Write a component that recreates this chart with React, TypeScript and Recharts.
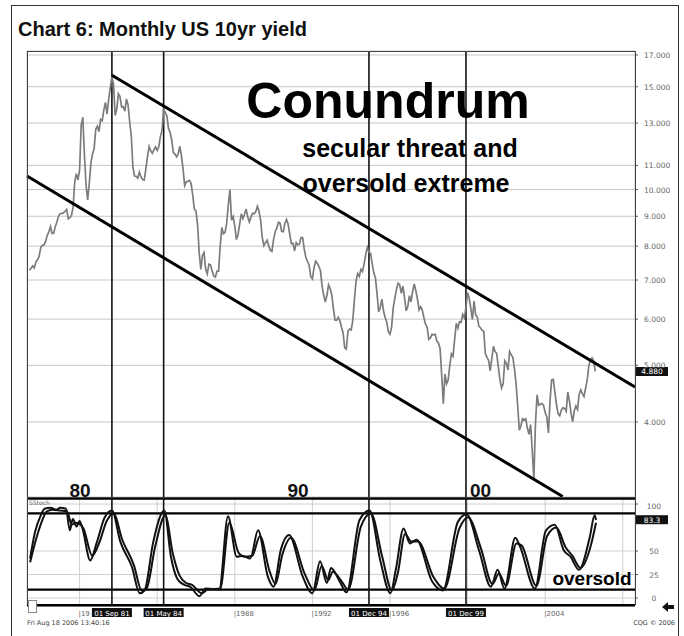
import { CartesianGrid, Line, LineChart, ReferenceLine, XAxis, YAxis } from "recharts";

// monthly US 10yr yield, Jun 1977 .. Aug 2006
const firstMonth = 1977 + 5 / 12;
const yields = [
  7.28, 7.33, 7.4, 7.34, 7.52, 7.58, 7.69,
  7.96, 8.03, 8.04, 8.15, 8.35, 8.46, 8.64, 8.41, 8.42, 8.64, 8.81, 9.01,
  9.1, 9.1, 9.12, 9.18, 9.25, 8.91, 8.95, 9.03, 9.33, 10.3, 10.65, 10.39,
  10.8, 12.9, 13.3, 11.47, 10.18, 9.6, 10.25, 11.1, 11.51, 11.75, 12.68, 12.84,
  12.57, 13.19, 13.12, 13.68, 14.1, 13.47, 14.28, 14.94, 15.6, 15.15, 13.39, 13.72,
  14.59, 14.43, 13.86, 13.87, 13.62, 14.3, 13.95, 13.06, 12.34, 10.91, 10.55, 10.54,
  10.46, 10.72, 10.51, 10.4, 10.38, 10.85, 11.38, 11.85, 11.65, 11.54, 11.69, 11.83,
  11.67, 11.84, 12.32, 12.63, 13.7, 13.56, 13.36, 12.72, 12.52, 12.16, 11.57, 11.5,
  11.38, 11.51, 11.86, 11.43, 10.85, 10.16, 10.31, 10.33, 10.37, 10.24, 9.78, 9.26,
  9.19, 8.7, 7.78, 7.3, 7.71, 7.8, 7.3, 7.17, 7.45, 7.43, 7.25, 7.11,
  7.08, 7.25, 7.25, 8.02, 8.61, 8.4, 8.45, 8.76, 9.42, 10.0, 8.86, 8.99,
  8.67, 8.21, 8.37, 8.72, 9.09, 8.92, 9.06, 9.26, 8.98, 8.8, 8.96, 9.11,
  9.09, 9.17, 9.36, 9.18, 8.86, 8.28, 8.02, 8.11, 8.19, 8.01, 7.87, 7.84,
  8.21, 8.47, 8.59, 8.79, 8.76, 8.48, 8.47, 8.75, 8.89, 8.72, 8.39, 8.08,
  8.09, 7.85, 8.11, 8.04, 8.07, 8.28, 8.27, 7.9, 7.65, 7.53, 7.42, 7.09,
  7.03, 7.34, 7.54, 7.48, 7.39, 7.26, 6.84, 6.59, 6.42, 6.59, 6.87, 6.77,
  6.6, 6.26, 5.98, 5.97, 6.04, 5.96, 5.81, 5.68, 5.36, 5.33, 5.72, 5.77,
  5.75, 5.97, 6.48, 6.97, 7.18, 7.1, 7.3, 7.24, 7.46, 7.74, 7.96, 7.81,
  7.78, 7.47, 7.2, 7.06, 6.63, 6.17, 6.28, 6.49, 6.2, 6.04, 5.93, 5.71,
  5.65, 5.81, 6.27, 6.51, 6.74, 6.91, 6.87, 6.64, 6.83, 6.53, 6.2, 6.3,
  6.58, 6.42, 6.69, 6.89, 6.71, 6.49, 6.22, 6.3, 6.21, 6.03, 5.88, 5.81,
  5.54, 5.57, 5.65, 5.64, 5.65, 5.5, 5.46, 5.34, 4.81, 4.3, 4.83, 4.65,
  4.72, 5.0, 5.23, 5.18, 5.54, 5.9, 5.79, 5.94, 5.92, 6.11, 6.03, 6.28,
  6.66, 6.52, 6.26, 5.99, 6.44, 6.1, 6.05, 5.83, 5.8, 5.74, 5.72, 5.24,
  5.16, 5.1, 4.89, 5.14, 5.39, 5.28, 5.24, 4.97, 4.73, 4.57, 4.65, 5.09,
  5.04, 4.91, 5.28, 5.21, 5.16, 4.93, 4.65, 4.26, 3.87, 3.94, 4.05, 4.03,
  4.05, 3.9, 3.81, 3.96, 3.57, 3.2, 3.98, 4.45, 4.27, 4.29, 4.3, 4.27,
  4.15, 4.08, 3.83, 4.35, 4.72, 4.73, 4.5, 4.28, 4.13, 4.1, 4.19, 4.23,
  4.22, 4.17, 4.5, 4.34, 4.14, 4.0, 4.18, 4.26, 4.2, 4.46, 4.54, 4.47,
  4.42, 4.57, 4.72, 4.99, 5.11, 5.15, 5.09, 4.88,
];

// slow stochastic, %K and %D turning points [year, value]
const stochK = [
  [1977.45, 42], [1977.7, 70], [1978.0, 88], [1978.2, 95], [1978.5, 96], [1978.8, 94], [1979.0, 96],
  [1979.3, 95], [1979.5, 72], [1979.65, 84], [1979.85, 76], [1980.0, 82], [1980.15, 74], [1980.55, 40],
  [1980.9, 60], [1981.3, 86], [1981.67, 93], [1982.1, 60], [1982.7, 33], [1983.1, 5], [1983.35, 8],
  [1983.8, 60], [1984.37, 93], [1984.7, 45], [1985.05, 20], [1985.4, 14], [1985.7, 12], [1986.18, 2],
  [1986.5, 10], [1987.2, 9], [1987.65, 87], [1988.1, 44], [1988.4, 45], [1988.8, 42], [1989.2, 72],
  [1989.7, 23], [1990.0, 12], [1990.37, 51], [1990.8, 67], [1991.5, 23], [1992.0, 5], [1992.4, 39],
  [1992.74, 16], [1992.96, 32], [1993.4, 18], [1993.76, 6], [1994.43, 83], [1994.95, 93], [1995.5, 40],
  [1996.02, 5], [1996.3, 30], [1996.7, 74], [1997.03, 58], [1997.37, 62], [1998.16, 18], [1998.73, 8],
  [1999.5, 81], [1999.95, 89], [2000.6, 50], [2001.2, 12], [2001.55, 30], [2001.9, 10], [2002.46, 64],
  [2002.7, 55], [2003.47, 10], [2004.04, 72], [2004.5, 78], [2004.95, 51], [2005.3, 44], [2005.74, 30],
  [2006.3, 65], [2006.55, 88], [2006.62, 83],
];
const stochD = [
  [1977.45, 38], [1977.75, 62], [1978.1, 84], [1978.3, 92], [1978.6, 94], [1979.0, 93], [1979.35, 92],
  [1979.6, 78], [1979.8, 80], [1980.05, 78], [1980.2, 74], [1980.65, 45], [1981.0, 58], [1981.4, 82],
  [1981.75, 90], [1982.2, 62], [1982.8, 35], [1983.2, 8], [1983.45, 10], [1983.9, 55], [1984.42, 88],
  [1984.8, 48], [1985.15, 24], [1985.5, 16], [1985.8, 14], [1986.3, 5], [1986.6, 9], [1987.25, 10],
  [1987.72, 80], [1988.2, 48], [1988.5, 44], [1988.9, 45], [1989.3, 66], [1989.8, 28], [1990.1, 15],
  [1990.45, 46], [1990.9, 64], [1991.6, 26], [1992.1, 8], [1992.48, 34], [1992.82, 19], [1993.05, 28],
  [1993.5, 18], [1993.85, 9], [1994.5, 76], [1995.02, 90], [1995.6, 44], [1996.1, 8], [1996.4, 26],
  [1996.78, 68], [1997.1, 60], [1997.45, 60], [1998.25, 22], [1998.8, 10], [1999.58, 74], [2000.02, 86],
  [2000.7, 52], [2001.28, 15], [2001.62, 26], [2001.98, 13], [2002.52, 58], [2002.78, 56], [2003.55, 13],
  [2004.1, 66], [2004.58, 75], [2005.05, 54], [2005.4, 45], [2005.82, 32], [2006.38, 58], [2006.62, 80],
];

const markedDates = [
  { x: 1981 + 8 / 12, label: "01 Sep 81" },
  { x: 1984 + 4 / 12, label: "01 May 84" },
  { x: 1994 + 11 / 12, label: "01 Dec 94" },
  { x: 1999 + 11 / 12, label: "01 Dec 99" },
];
const gridYears = [1980, 1984, 1988, 1992, 1996, 2000, 2004, 2008];
// 1980 label is mostly hidden behind the Sep 81 box, only "|19" shows
const yearLabels: Record<number, string> = { 1980: "|19", 1988: "|1988", 1992: "|1992", 1996: "|1996", 2004: "|2004" };
const yieldTicks = [4, 5, 6, 7, 8, 9, 10, 11, 12, 13, 14, 15, 16, 17];
const stochTicks = [0, 25, 50, 75, 100];
const upperChannel = [{ x: 1981.667, y: 15.7 }, { x: 2008.63, y: 4.59 }];
const lowerChannel = [{ x: 1977.29, y: 10.55 }, { x: 2004.9, y: 2.98 }];
const lastYield = 4.88;
const lastStoch = 83.3;

const xDomain = [1977.29, 2008.63];
const yieldRows = yields.map((v, i) => ({ x: firstMonth + i / 12, y: v }));
const kRows = stochK.map(([x, v]) => ({ x, v }));
const dRows = stochD.map(([x, v]) => ({ x, v }));

const axisFont = "'DejaVu Sans', sans-serif";
const boldFont = "'Liberation Sans', Arial, sans-serif";

function YieldTick(props: any) {
  const { x, y, payload } = props;
  return (
    <text x={x + 4} y={y + 3} fontSize={7.5} fill="#666" fontFamily={axisFont}>
      {payload.value.toFixed(3)}
    </text>
  );
}

function StochTick(props: any) {
  const { x, y, payload } = props;
  if (payload.value === 75) return null;
  return (
    <text x={x + 14} y={y + 3} fontSize={7.5} fill="#666" textAnchor="middle" fontFamily={axisFont}>
      {payload.value}
    </text>
  );
}

function YearTick(props: any) {
  const { x, y, payload } = props;
  const label = yearLabels[payload.value];
  if (!label) return null;
  return (
    <text x={x - 1} y={y + 2} fontSize={7} fill="#666" fontFamily={axisFont}>
      {label}
    </text>
  );
}

function valueBox(text: string) {
  return (props: any) => {
    const { x, y, width } = props.viewBox;
    return (
      <g>
        <rect x={x + width + 1} y={y - 4.5} width={32} height={9} fill="#111" />
        <text x={x + width + 17} y={y + 3} fontSize={7.5} fill="#fff" textAnchor="middle" fontFamily={axisFont}>
          {text}
        </text>
      </g>
    );
  };
}

function dateBox(text: string) {
  return (props: any) => {
    const { x, y, height } = props.viewBox;
    return (
      <g>
        <rect x={x - 20} y={y + height + 2} width={40} height={9} fill="#111" />
        <text x={x} y={y + height + 9.5} fontSize={7} fill="#fff" textAnchor="middle" fontFamily={axisFont}>
          {text}
        </text>
      </g>
    );
  };
}

export default function App() {
  return (
    <div style={{ position: "absolute", left: 0, top: 0, width: 684, height: 636, background: "#fff", overflow: "hidden" }}>
      <div style={{ position: "absolute", left: 11, top: 5, width: 666, height: 640, border: "1.5px solid #333" }} />

      <div style={{ position: "absolute", left: 0, top: 0 }}>
        <LineChart width={684} height={500} data={yieldRows} margin={{ top: 51, right: 0, bottom: 3, left: 27 }}>
          <CartesianGrid stroke="#c6c6c6" />
          <XAxis
            type="number"
            dataKey="x"
            domain={xDomain}
            ticks={gridYears}
            allowDataOverflow
            height={0}
            tick={false}
            axisLine={false}
            tickLine={false}
          />
          <YAxis
            orientation="right"
            type="number"
            scale="log"
            domain={[2.975, 17.27]}
            allowDataOverflow
            ticks={yieldTicks}
            width={49}
            tick={<YieldTick />}
            tickSize={3}
            axisLine={false}
            tickLine={{ stroke: "#555" }}
          />
          {markedDates.map((d) => (
            <ReferenceLine key={d.label} x={d.x} stroke="#111" strokeWidth={1.6} />
          ))}
          <Line
            dataKey="y"
            stroke="#7c7c7c"
            strokeWidth={1.7}
            dot={false}
            isAnimationActive={false}
          />
          <ReferenceLine segment={upperChannel} stroke="#000" strokeWidth={3} ifOverflow="visible" />
          <ReferenceLine segment={lowerChannel} stroke="#000" strokeWidth={3} ifOverflow="visible" />
          <ReferenceLine y={lastYield} stroke="none" label={valueBox(lastYield.toFixed(3))} />
        </LineChart>
      </div>

      <div style={{ position: "absolute", left: 0, top: 497 }}>
        <LineChart width={684} height={140} margin={{ top: 1, right: 0, bottom: 17, left: 27 }}>
          <CartesianGrid stroke="#cfcfcf" />
          <XAxis
            type="number"
            dataKey="x"
            domain={xDomain}
            ticks={gridYears}
            allowDataOverflow
            height={14}
            tick={<YearTick />}
            axisLine={false}
            tickLine={false}
          />
          <YAxis
            orientation="right"
            type="number"
            domain={[-8.5, 106.4]}
            allowDataOverflow
            ticks={stochTicks}
            width={49}
            tick={<StochTick />}
            tickSize={3}
            axisLine={false}
            tickLine={{ stroke: "#555" }}
          />
          <ReferenceLine y={90} stroke="#000" strokeWidth={2.2} />
          <ReferenceLine y={9} stroke="#000" strokeWidth={2.2} />
          <ReferenceLine y={106} stroke="#000" strokeWidth={2.5} />
          <ReferenceLine y={-7.6} stroke="#000" strokeWidth={2.5} />
          {markedDates.map((d) => (
            <ReferenceLine key={d.label} x={d.x} stroke="#111" strokeWidth={1.6} label={dateBox(d.label)} />
          ))}
          <Line data={dRows} dataKey="v" type="monotone" stroke="#111" strokeWidth={2} dot={false} isAnimationActive={false} />
          <Line data={kRows} dataKey="v" type="monotone" stroke="#111" strokeWidth={2} dot={false} isAnimationActive={false} />
          <ReferenceLine y={lastStoch} stroke="none" label={valueBox(lastStoch.toFixed(1))} />
        </LineChart>
      </div>

      <div style={{ position: "absolute", left: 27, top: 51, width: 607, height: 445, border: "1px solid #444", pointerEvents: "none" }} />
      <div style={{ position: "absolute", left: 27, top: 498, width: 607, height: 107, borderLeft: "1px solid #444", borderRight: "1px solid #444", pointerEvents: "none" }} />
      <div style={{ position: "absolute", left: 28, top: 600, width: 7, height: 11, border: "1px solid #888", background: "#fff" }} />

      <svg width={684} height={636} style={{ position: "absolute", left: 0, top: 0, pointerEvents: "none" }}>
        <text x={18} y={36} fontSize={20} fontWeight="bold" fill="#111" fontFamily="'Liberation Sans Narrow', 'Liberation Sans', Arial, sans-serif">
          Chart 6: Monthly US 10yr yield
        </text>
        <text x={388} y={118} fontSize={50} fontWeight="bold" fill="#000" textAnchor="middle" fontFamily={boldFont}>
          Conundrum
        </text>
        <text x={410} y={157} fontSize={25} fontWeight="bold" fill="#000" textAnchor="middle" fontFamily={boldFont}>
          secular threat and
        </text>
        <text x={406} y={192} fontSize={25} fontWeight="bold" fill="#000" textAnchor="middle" fontFamily={boldFont}>
          oversold extreme
        </text>
        <text x={80} y={497} fontSize={19} fontWeight="bold" fill="#111" textAnchor="middle" fontFamily={boldFont}>80</text>
        <text x={298} y={497} fontSize={19} fontWeight="bold" fill="#111" textAnchor="middle" fontFamily={boldFont}>90</text>
        <text x={470} y={497} fontSize={19} fontWeight="bold" fill="#111" fontFamily={boldFont}>00</text>
        <text x={592} y={585} fontSize={19} fontWeight="bold" fill="#000" textAnchor="middle" fontFamily={boldFont}>oversold</text>
        <text x={29} y={505} fontSize={6} fill="#666" fontFamily={axisFont}>SStoch</text>
        <text x={27} y={625} fontSize={6.5} fill="#444" fontFamily={axisFont}>Fri Aug 18 2006 13:40:16</text>
        <text x={675} y={625} fontSize={6.5} fill="#444" textAnchor="end" fontFamily={axisFont}>CQG © 2006</text>
        <path d="M662 607 L668 602 L668 605 L674 605 L674 609 L668 609 L668 612 Z" fill="#111" />
      </svg>
    </div>
  );
}
